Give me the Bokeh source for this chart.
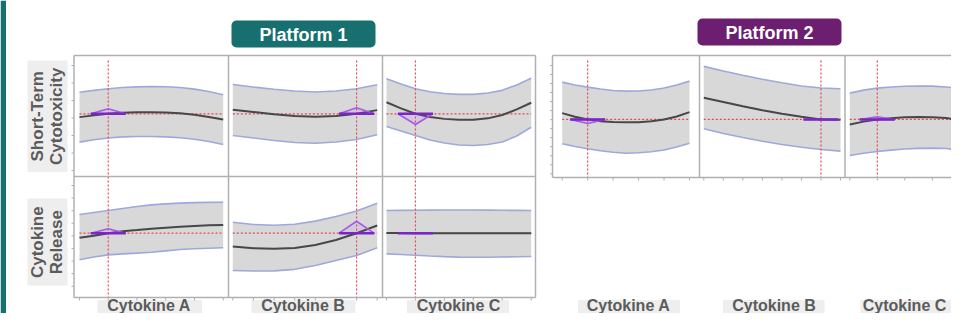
import numpy as np
from bokeh.plotting import figure
from bokeh.models import Range1d
from bokeh.core.properties import value
from bokeh.embed import file_html
from bokeh.resources import INLINE

# ---------------- data ----------------
platforms = ["Platform 1", "Platform 2"]
responses = ["Short-Term Cytotoxicity", "Cytokine Release"]
factors = ["Cytokine A", "Cytokine B", "Cytokine C"]

x_a = [0, 0.5, 1, 1.5, 2, 2.5, 3, 3.5, 4, 4.5, 5]
x_b = [0, 1, 2, 3, 4, 5, 6, 7]
x_c = [0, 0.5, 1, 1.5, 2, 2.5, 3, 3.5, 4, 4.5, 5]
ticks_a = [0, 1, 2, 3, 4, 5]
ticks_b = [0, 1, 2, 3, 4, 5, 6, 7]
ticks_c = [0, 1, 2, 3, 4, 5]
current_x = [1, 6, 1]          # current factor settings (A, B, C)

p1_cyto_ticks = [0, 1, 2, 3, 4, 5, 6]
p1_rel_ticks = [0, 1, 2, 3, 4, 5, 6, 7, 8]
p2_cyto_ticks = [0, 1, 2, 3, 4, 5, 6, 7, 8, 9, 10, 11, 12]

p1_cyto_pred = 3.24
p1_rel_pred = 4.21
p2_cyto_pred = 6.02

# Platform 1 - Short-Term Cytotoxicity
p1_cyto_a_mid = [3.05, 3.15, 3.24, 3.30, 3.33, 3.33, 3.31, 3.27, 3.18, 3.06, 2.91]
p1_cyto_a_lo = [1.62, 1.76, 1.86, 1.92, 1.94, 1.94, 1.92, 1.87, 1.79, 1.66, 1.49]
p1_cyto_a_hi = [4.47, 4.58, 4.67, 4.74, 4.78, 4.80, 4.79, 4.74, 4.65, 4.51, 4.33]
p1_cyto_b_mid = [3.47, 3.34, 3.21, 3.11, 3.07, 3.12, 3.24, 3.45]
p1_cyto_b_lo = [2.00, 1.86, 1.71, 1.60, 1.56, 1.63, 1.77, 2.04]
p1_cyto_b_hi = [4.91, 4.77, 4.64, 4.54, 4.49, 4.54, 4.67, 4.90]
p1_cyto_c_mid = [3.90, 3.55, 3.24, 3.06, 2.95, 2.90, 2.90, 2.98, 3.17, 3.49, 3.87]
p1_cyto_c_lo = [2.51, 2.26, 2.00, 1.74, 1.57, 1.46, 1.43, 1.49, 1.63, 1.97, 2.47]
p1_cyto_c_hi = [5.24, 4.94, 4.67, 4.50, 4.40, 4.35, 4.35, 4.43, 4.58, 4.89, 5.27]

# Platform 1 - Cytokine Release
p1_rel_a_mid = [3.84, 4.01, 4.21, 4.37, 4.46, 4.56, 4.64, 4.72, 4.79, 4.84, 4.87]
p1_rel_a_lo = [2.10, 2.32, 2.49, 2.57, 2.63, 2.70, 2.81, 2.91, 2.97, 3.02, 3.05]
p1_rel_a_hi = [5.69, 5.85, 6.01, 6.17, 6.33, 6.46, 6.54, 6.60, 6.64, 6.66, 6.67]
p1_rel_b_mid = [3.15, 3.02, 2.97, 3.03, 3.27, 3.67, 4.21, 4.82]
p1_rel_b_lo = [1.25, 1.21, 1.22, 1.34, 1.64, 2.04, 2.44, 3.05]
p1_rel_b_hi = [5.08, 4.90, 4.84, 4.92, 5.17, 5.53, 5.98, 6.59]
p1_rel_c_mid = [4.22, 4.22, 4.21, 4.21, 4.21, 4.21, 4.21, 4.20, 4.20, 4.20, 4.20]
p1_rel_c_lo = [2.57, 2.52, 2.46, 2.40, 2.35, 2.31, 2.30, 2.30, 2.32, 2.34, 2.36]
p1_rel_c_hi = [6.01, 6.02, 6.03, 6.04, 6.05, 6.05, 6.05, 6.04, 6.03, 6.02, 6.01]

# Platform 2 - Short-Term Cytotoxicity
p2_cyto_a_mid = [6.72, 6.32, 6.02, 5.82, 5.73, 5.70, 5.72, 5.82, 6.02, 6.35, 6.83]
p2_cyto_a_lo = [3.33, 3.03, 2.77, 2.55, 2.38, 2.28, 2.33, 2.44, 2.64, 2.97, 3.39]
p2_cyto_a_hi = [10.16, 9.84, 9.60, 9.40, 9.23, 9.16, 9.18, 9.29, 9.51, 9.84, 10.27]
p2_cyto_b_mid = [8.43, 7.96, 7.48, 7.04, 6.65, 6.32, 6.02, 5.98]
p2_cyto_b_lo = [4.99, 4.47, 4.02, 3.61, 3.25, 2.94, 2.69, 2.51]
p2_cyto_b_hi = [11.90, 11.40, 10.92, 10.48, 10.09, 9.73, 9.51, 9.42]
p2_cyto_c_mid = [5.47, 5.78, 6.02, 6.15, 6.26, 6.30, 6.27, 6.19, 5.96, 5.63, 5.24]
p2_cyto_c_lo = [2.03, 2.27, 2.47, 2.62, 2.74, 2.82, 2.85, 2.80, 2.62, 2.32, 1.95]
p2_cyto_c_hi = [8.94, 9.27, 9.49, 9.62, 9.70, 9.73, 9.71, 9.62, 9.46, 9.20, 8.90]

# sensitivity indicators (signed height, response units) per factor A, B, C
p1_cyto_sens = [0.29, 0.34, -0.61]
p1_rel_sens = [0.35, 0.95, 0.0]
p2_cyto_sens = [-0.44, 0.0, 0.30]

# ---------------- styles / layout ----------------
BAND = "#d8d8d8"
BAND_EDGE = "#9ea8dc"
MID = "#474747"
RED = "#e0485a"
TRI = "#a75ae8"
TRI_BASE = "#7b25c8"
FRAME = "#b0b0b0"
LABEL_BG = "#eeeeee"
LABEL_TXT = "#5b5b5b"
TEAL = "#17706f"
PURPLE = "#6c1e70"
FONT = value("Liberation Sans")

W, H = 951, 313
p = figure(width=W, height=H, output_backend="svg", toolbar_location=None,
           x_range=Range1d(0, W), y_range=Range1d(H, 0),
           min_border=0, min_border_left=0, min_border_right=0,
           min_border_top=0, min_border_bottom=0)
p.axis.visible = False
p.grid.visible = False
p.outline_line_color = None
p.background_fill_color = "white"
p.border_fill_color = "white"


def panel(xs, mid, lo, hi, xt, yt, xtgt, ytgt, xcur, ycur, sens,
          col_top, col_bot, xtick_y, ytick_x=None, yticks=None):
    sub = p.subplot(x_source=Range1d(xt[0], xt[-1]), y_source=Range1d(yt[0], yt[-1]),
                    x_target=Range1d(*xtgt), y_target=Range1d(*ytgt))
    mx = p.subplot(x_source=Range1d(xt[0], xt[-1]), y_source=p.y_range,
                   x_target=Range1d(*xtgt), y_target=p.y_range)
    sub.varea(x=xs, y1=lo, y2=hi, fill_color=BAND, fill_alpha=1)
    sub.line(xs, hi, line_color=BAND_EDGE, line_width=1.6)
    sub.line(xs, lo, line_color=BAND_EDGE, line_width=1.6)
    # reference (current setting) lines
    sub.line([xs[0], xs[-1]], [ycur, ycur], line_color=RED, line_width=1.2,
             line_dash="2 2")
    mx.line([xcur, xcur], [col_top, col_bot], line_color=RED, line_width=1.2,
            line_dash="2 2")
    sub.line(xs, mid, line_color=MID, line_width=2)
    # sensitivity triangle
    hw = 17.5 * (xt[-1] - xt[0]) / (xtgt[1] - xtgt[0])
    sub.patch([xcur - hw, xcur, xcur + hw], [ycur, ycur + sens, ycur],
              fill_color=TRI, fill_alpha=0.12, line_color=TRI, line_width=1.6)
    sub.line([xcur - hw, xcur + hw], [ycur, ycur], line_color=TRI_BASE,
             line_width=2.4)
    # ticks
    if xtick_y is not None:
        mx.segment(x0=xt, x1=xt, y0=[xtick_y] * len(xt),
                   y1=[xtick_y + 3] * len(xt), line_color=FRAME, line_width=1)
    if ytick_x is not None:
        my = p.subplot(x_source=p.x_range, y_source=Range1d(yt[0], yt[-1]),
                       x_target=p.x_range, y_target=Range1d(*ytgt))
        my.segment(x0=[ytick_x - 2.5] * len(yticks), x1=[ytick_x] * len(yticks),
                   y0=yticks, y1=yticks, line_color=FRAME, line_width=1)


# panel geometry (pixel positions)
p1_cols = [(79, 222.7), (232.3, 376.7), (386, 530.7)]
p1_row1 = (170, 65)
p1_row2 = (285.7, 185)
p2_cols = [(561.7, 689), (703.3, 840), (849.3, 986.8)]
p2_row = (173.3, 65)

xs_list = [x_a, x_b, x_c]
xt_list = [ticks_a, ticks_b, ticks_c]

p1_cyto = [(p1_cyto_a_mid, p1_cyto_a_lo, p1_cyto_a_hi),
           (p1_cyto_b_mid, p1_cyto_b_lo, p1_cyto_b_hi),
           (p1_cyto_c_mid, p1_cyto_c_lo, p1_cyto_c_hi)]
p1_rel = [(p1_rel_a_mid, p1_rel_a_lo, p1_rel_a_hi),
          (p1_rel_b_mid, p1_rel_b_lo, p1_rel_b_hi),
          (p1_rel_c_mid, p1_rel_c_lo, p1_rel_c_hi)]
p2_cyto = [(p2_cyto_a_mid, p2_cyto_a_lo, p2_cyto_a_hi),
           (p2_cyto_b_mid, p2_cyto_b_lo, p2_cyto_b_hi),
           (p2_cyto_c_mid, p2_cyto_c_lo, p2_cyto_c_hi)]

# column label boxes (drawn first so the tick marks stay visible)
box_l = [97, 251, 406.5, 577.5, 722.5, 860]
box_r = [201.5, 355, 508.5, 679.5, 824, 960]
txt_x = [148.5, 302.5, 458, 628, 773.5, 904]
p.quad(left=box_l, right=box_r, top=[299.5] * 6, bottom=[320] * 6,
       fill_color=LABEL_BG, line_color=None)

for i in range(3):
    m, lo, hi = p1_cyto[i]
    panel(xs_list[i], m, lo, hi, xt_list[i], p1_cyto_ticks, p1_cols[i], p1_row1,
          current_x[i], p1_cyto_pred, p1_cyto_sens[i], 60, 176, None,
          ytick_x=73.5 if i == 0 else None, yticks=p1_cyto_ticks)
    m, lo, hi = p1_rel[i]
    panel(xs_list[i], m, lo, hi, xt_list[i], p1_rel_ticks, p1_cols[i], p1_row2,
          current_x[i], p1_rel_pred, p1_rel_sens[i], 176, 297, 297,
          ytick_x=73.5 if i == 0 else None, yticks=p1_rel_ticks)
    m, lo, hi = p2_cyto[i]
    panel(xs_list[i], m, lo, hi, xt_list[i], p2_cyto_ticks, p2_cols[i], p2_row,
          current_x[i], p2_cyto_pred, p2_cyto_sens[i], 60, 177, 177,
          ytick_x=552 if i == 0 else None, yticks=p2_cyto_ticks)

# frames
fx0 = [73.5, 73.5, 73.5, 535, 228, 382, 73.5,
       552, 552, 552, 699, 844.5]
fy0 = [55, 297, 55, 55, 55, 55, 176,
       55, 177, 55, 55, 55]
fx1 = [535, 535, 73.5, 535, 228, 382, 535,
       975, 975, 552, 699, 844.5]
fy1 = [55, 297, 297, 297, 297, 297, 176,
       55, 177, 177, 177, 177]
p.segment(x0=fx0, y0=fy0, x1=fx1, y1=fy1, line_color=FRAME, line_width=1.5)

# left accent bar
p.quad(left=[0], right=[5.5], top=[0], bottom=[H], fill_color=TEAL,
       line_color=None)

# platform headers
p.quad(left=[231, 697], right=[375, 841], top=[20, 18], bottom=[47, 45],
       fill_color=[TEAL, PURPLE], line_color=None, border_radius=5)
p.text(x=[303, 769], y=[34, 32], text=platforms, text_color="white",
       text_font=FONT, text_font_style="bold", text_font_size="18px",
       text_align="center", text_baseline="middle")

# row labels
p.quad(left=[27, 27], right=[67, 67], top=[60, 198], bottom=[171.5, 285],
       fill_color=LABEL_BG, line_color=None)
row_centers = [115.8, 241.7]
rx, ry, rt = [], [], []
for r, yc in zip(responses, row_centers):
    parts = r.split(" ")
    rx += [37, 55.5]
    ry += [yc, yc]
    rt += parts
p.text(x=rx, y=ry, text=rt, angle=np.pi / 2, text_color=LABEL_TXT,
       text_font=FONT, text_font_style="bold", text_font_size="17px",
       text_align="center", text_baseline="middle")

# column label texts
p.text(x=txt_x, y=[304.5] * 6, text=factors + factors, text_color=LABEL_TXT,
       text_font=FONT, text_font_style="bold", text_font_size="16px",
       text_align="center", text_baseline="middle")

open("out.html", "w").write(file_html(p, INLINE))
